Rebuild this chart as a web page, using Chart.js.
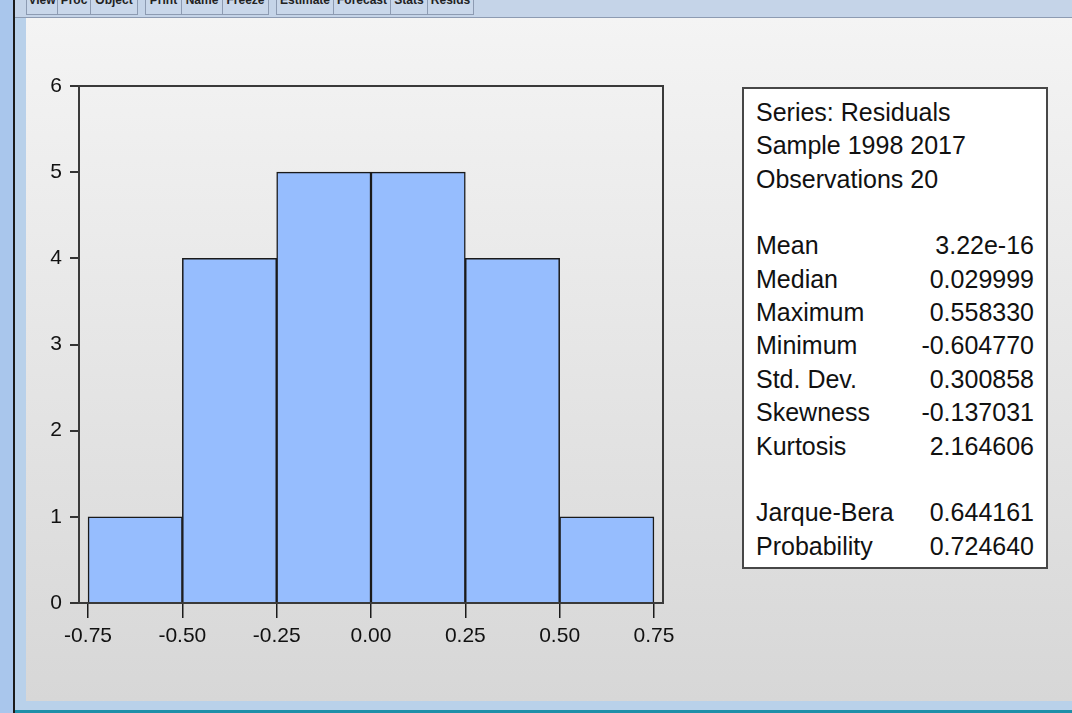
<!DOCTYPE html>
<html>
<head>
<meta charset="utf-8">
<script src="https://cdn.jsdelivr.net/npm/chart.js@4/dist/chart.umd.min.js"></script>
<style>
  html, body { margin: 0; padding: 0; }
  body { width: 1072px; height: 713px; position: relative; overflow: hidden; background: #b9d1ea; font-family: "Liberation Sans", Arial, sans-serif; }
  #leftbar { position: absolute; left: 0; top: 0; width: 13px; height: 713px; background: #a9c6ec; }
  #leftline { position: absolute; left: 13px; top: 0; width: 2px; height: 713px; background: #1b1b1b; }
  #content { position: absolute; left: 26px; top: 18px; width: 1046px; height: 683px; background: linear-gradient(#f4f4f4, #d7d7d7); }
  #toolbar { position: absolute; left: 15px; top: 0; width: 1057px; height: 17px; background: #c5d4e8; border-bottom: 1px solid #8d9bb2; overflow: hidden; }
  .btn { position: absolute; top: -9px; height: 24px; border: 1px solid #8d9bb2; border-top: none; background: #c9d7ea; font: bold 12px "Liberation Sans", sans-serif; color: #222; text-align: center; line-height: 18px; box-sizing: border-box; overflow: hidden; white-space: nowrap; }
  #bottomline { position: absolute; left: 15px; top: 710px; width: 1057px; height: 3px; background: #1f8fa8; }
  #chartbox { position: absolute; left: 0; top: 0; width: 700px; height: 680px; }
  #stats { position: absolute; left: 742px; top: 87px; width: 306px; height: 482px; box-sizing: border-box; border: 2px solid #474747; background: #fff; font-size: 25px; color: #111; }
  .row { position: absolute; left: 12px; right: 12px; height: 34px; line-height: 34px; white-space: nowrap; }
  .row .v { position: absolute; right: 0; top: 0; }
</style>
</head>
<body>
<div id="leftbar"></div>
<div id="leftline"></div>
<div id="toolbar"></div>
<div id="content"></div>
<div id="bottomline"></div>
<div id="chartbox"><canvas id="c" width="700" height="680"></canvas></div>
<div id="stats"></div>
<script>
// histogram bins (centres) and counts
const binCenters = [-0.625, -0.375, -0.125, 0.125, 0.375, 0.625];
const counts = [1, 4, 5, 5, 4, 1];
const xTicks = [-0.75, -0.5, -0.25, 0, 0.25, 0.5, 0.75];
const yTicks = [0, 1, 2, 3, 4, 5, 6];

// descriptive statistics panel
const headerLines = ['Series: Residuals', 'Sample 1998 2017', 'Observations 20'];
const statNames = ['Mean', 'Median', 'Maximum', 'Minimum', 'Std. Dev.', 'Skewness', 'Kurtosis'];
const statValues = ['3.22e-16', '0.029999', '0.558330', '-0.604770', '0.300858', '-0.137031', '2.164606'];
const testNames = ['Jarque-Bera', 'Probability'];
const testValues = ['0.644161', '0.724640'];

// toolbar buttons (mostly scrolled off the top of the window)
const buttons = [
  ['View', 26, 57], ['Proc', 57, 90], ['Object', 90, 137],
  ['Print', 145, 181], ['Name', 181, 222], ['Freeze', 222, 268],
  ['Estimate', 276, 333], ['Forecast', 333, 390], ['Stats', 390, 427], ['Resids', 427, 473],
];
const toolbar = document.getElementById('toolbar');
buttons.forEach(([label, x0, x1]) => {
  const b = document.createElement('div');
  b.className = 'btn';
  b.style.left = (x0 - 15) + 'px';
  b.style.width = (x1 - x0 + 1) + 'px';
  b.textContent = label;
  toolbar.appendChild(b);
});

const stats = document.getElementById('stats');
function addRow(idx, name, value) {
  const r = document.createElement('div');
  r.className = 'row';
  r.style.top = (6 + idx * 33.35) + 'px';
  r.textContent = name;
  if (value != null) {
    const v = document.createElement('span');
    v.className = 'v';
    v.textContent = value;
    r.appendChild(v);
  }
  stats.appendChild(r);
}
headerLines.forEach((t, i) => addRow(i, t));
statNames.forEach((t, i) => addRow(4 + i, t, statValues[i]));
testNames.forEach((t, i) => addRow(12 + i, t, testValues[i]));

// box around the plot area
const frame = {
  id: 'frame',
  afterDraw(chart) {
    const { ctx, chartArea: a } = chart;
    ctx.save();
    ctx.strokeStyle = '#3a3a3a';
    ctx.lineWidth = 2;
    ctx.strokeRect(a.left, a.top, a.right - a.left, a.bottom - a.top);
    ctx.restore();
  },
};

new Chart(document.getElementById('c'), {
  type: 'bar',
  data: {
    datasets: [{
      data: binCenters.map((x, i) => ({ x, y: counts[i] })),
      backgroundColor: '#96bdfe',
      borderColor: '#1a1a1a',
      borderWidth: 1.5,
      barPercentage: 1,
      categoryPercentage: 1,
    }],
  },
  plugins: [frame],
  options: {
    responsive: false,
    maintainAspectRatio: false,
    animation: false,
    layout: { padding: { top: 86, right: 37, left: 0, bottom: 0 } },
    plugins: { legend: { display: false }, tooltip: { enabled: false } },
    scales: {
      x: {
        type: 'linear',
        offset: false,
        min: -0.774,
        max: 0.774,
        afterBuildTicks: (s) => { s.ticks = xTicks.map((v) => ({ value: v })); },
        afterFit: (s) => { s.height = 77; },
        grid: { offset: false, drawOnChartArea: false, color: '#1a1a1a', lineWidth: 1.5, tickLength: 15 },
        border: { display: false },
        ticks: { color: '#111', padding: 6, font: { family: 'Liberation Sans', size: 21 }, callback: (v) => v.toFixed(2), maxRotation: 0, autoSkip: false },
      },
      y: {
        min: 0,
        max: 6,
        afterBuildTicks: (s) => { s.ticks = yTicks.map((v) => ({ value: v })); },
        afterFit: (s) => { s.width = 79; },
        grid: { offset: false, drawOnChartArea: false, color: '#333', lineWidth: 2, tickLength: 9 },
        border: { display: false },
        ticks: { color: '#111', padding: 8, font: { family: 'Liberation Sans', size: 21 } },
      },
    },
  },
});
</script>
</body>
</html>
